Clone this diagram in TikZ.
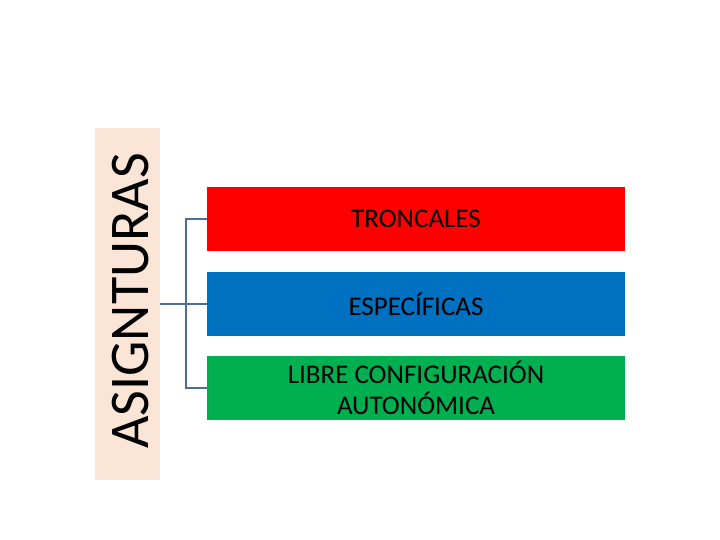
\documentclass[tikz,border=0pt]{standalone}
\usepackage{fontspec}
\setmainfont{Carlito}
\begin{document}
\begin{tikzpicture}[x=1pt,y=1pt,
  item/.style={draw=none,minimum width=418pt,minimum height=64pt,align=center,font=\fontsize{27}{31}\selectfont,text=black,inner sep=0pt},
  conn/.style={draw=conblue,line width=2pt}]
\definecolor{conblue}{HTML}{4F6D9A}
\definecolor{peach}{HTML}{FBE5D6}
\definecolor{bred}{HTML}{FF0000}
\definecolor{bblue}{HTML}{0070C0}
\definecolor{bgreen}{HTML}{00B050}
\useasboundingbox (0,0) rectangle (720,540);
\node[fill=peach,minimum width=65pt,minimum height=352pt,inner sep=0pt] (main) at (127.5,236) {};
\node[rotate=90,font=\fontsize{56}{56}\selectfont] (lbl) at (131,239) {ASIGNTURAS};
\node[item,fill=bred] (t) at (416,321) {TRONCALES};
\node[item,fill=bblue] (e) at (416,236) {ESPECÍFICAS};
\node[item,fill=bgreen] (l) at (416,152) {LIBRE CONFIGURACIÓN\\AUTONÓMICA};
\coordinate (j) at (186,236);
\draw[conn] (main.east) -- (j);
\draw[conn] (t.west) -- (186,321) |- (l.west);
\draw[conn] (j) -- (e.west);
\end{tikzpicture}
\end{document}
